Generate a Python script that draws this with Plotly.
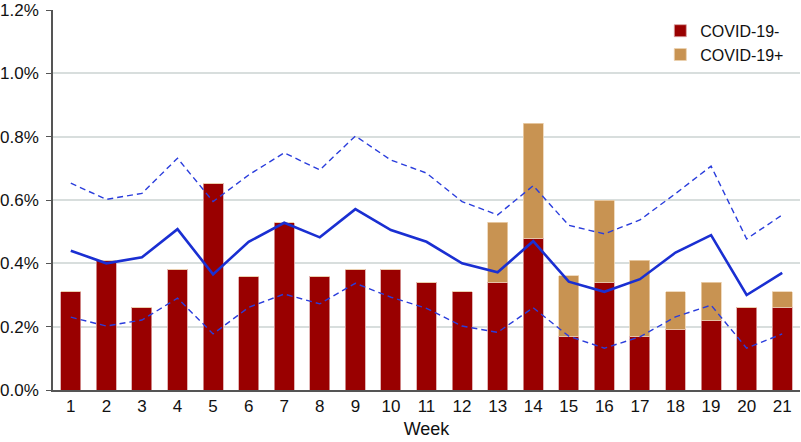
import plotly.graph_objects as go

weeks = list(range(1, 22))
covid_neg = [0.31, 0.408, 0.261, 0.381, 0.653, 0.358, 0.528, 0.36, 0.381, 0.381, 0.34,
             0.31, 0.34, 0.479, 0.17, 0.34, 0.17, 0.192, 0.221, 0.261, 0.261]
covid_pos = [0, 0, 0, 0, 0, 0, 0, 0, 0, 0, 0,
             0, 0.19, 0.363, 0.191, 0.26, 0.24, 0.118, 0.119, 0, 0.049]
expected = [0.44, 0.40, 0.419, 0.508, 0.365, 0.468, 0.528, 0.482, 0.571, 0.505, 0.468,
            0.40, 0.372, 0.47, 0.342, 0.31, 0.35, 0.434, 0.489, 0.30, 0.37]
upper = [0.653, 0.602, 0.621, 0.732, 0.595, 0.679, 0.749, 0.695, 0.802, 0.726, 0.685,
         0.595, 0.553, 0.645, 0.52, 0.493, 0.537, 0.62, 0.707, 0.477, 0.553]
lower = [0.23, 0.202, 0.221, 0.29, 0.177, 0.261, 0.303, 0.272, 0.337, 0.293, 0.258,
         0.202, 0.182, 0.26, 0.17, 0.132, 0.168, 0.231, 0.268, 0.132, 0.177]
y_ticks = [0.0, 0.2, 0.4, 0.6, 0.8, 1.0, 1.2]

fig = go.Figure()
fig.add_trace(go.Bar(x=weeks, y=covid_neg, name="COVID-19-", width=0.56,
                     marker=dict(color="#990000", line=dict(color="#d9a3a3", width=0.8))))
fig.add_trace(go.Bar(x=weeks, y=covid_pos, name="COVID-19+", width=0.56,
                     marker=dict(color="#c89352", line=dict(color="#ecd2b0", width=0.8))))
fig.add_trace(go.Scatter(x=weeks, y=upper, mode="lines", showlegend=False,
                         line=dict(color="#2a3ddc", width=1.4, dash="6px,4px")))
fig.add_trace(go.Scatter(x=weeks, y=lower, mode="lines", showlegend=False,
                         line=dict(color="#2a3ddc", width=1.4, dash="6px,4px")))
fig.add_trace(go.Scatter(x=weeks, y=expected, mode="lines", showlegend=False,
                         line=dict(color="#1a2fd2", width=2.6)))

fig.update_layout(
    width=801, height=442,
    barmode="stack",
    paper_bgcolor="white", plot_bgcolor="white",
    margin=dict(l=53, r=1, t=10, b=52),
    font=dict(family="Liberation Sans, Arial, sans-serif", color="#111111", size=17),
    legend=dict(x=0.813, y=0.99, xanchor="left", yanchor="top",
                font=dict(size=16), bgcolor="rgba(0,0,0,0)",
                traceorder="normal", itemwidth=30, tracegroupgap=2),
    xaxis=dict(range=[0.5, 21.5], tickmode="array", tickvals=weeks,
               ticktext=[str(w) for w in weeks], showgrid=False,
               showline=True, linecolor="#555555", linewidth=1.5, ticks="",
               title=dict(text="Week", font=dict(size=18), standoff=7),
               tickfont=dict(size=17)),
    yaxis=dict(range=[0, 1.2], tickmode="array", tickvals=y_ticks,
               ticktext=[f"{v:.1f}%" for v in y_ticks],
               showgrid=True, gridcolor="#d8dedd", gridwidth=1.5,
               showline=True, linecolor="#555555", linewidth=1.5,
               ticks="outside", ticklen=5, tickcolor="#555555",
               ticklabelstandoff=4,
               tickfont=dict(size=17), zeroline=False),
)

fig.write_html("out.html",
               config={"displayModeBar": False},
               post_script="document.body.style.margin='0';document.body.style.overflow='hidden';")
